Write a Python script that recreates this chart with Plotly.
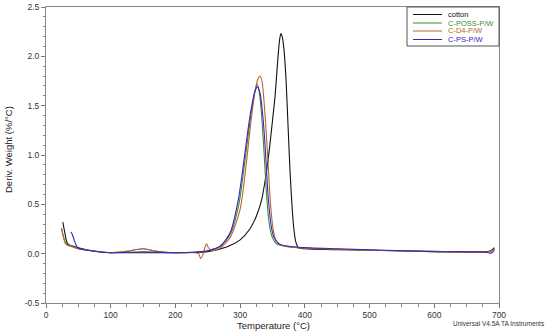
import plotly.graph_objects as go

# ---- data ----
cotton_x = [26, 28, 30, 32, 35, 40, 50, 70, 100, 150, 200, 250, 280, 300, 315, 325, 333, 340, 345, 350,
            354, 358, 361, 363, 365, 368, 371, 374, 377, 380, 383, 386, 390, 400, 450, 500, 600, 680, 687, 693]
cotton_y = [0.32, 0.25, 0.18, 0.12, 0.09, 0.08, 0.06, 0.03, 0.01, 0.01, 0.01, 0.02, 0.07, 0.14, 0.25, 0.38,
            0.54, 0.8, 1.05, 1.35, 1.6, 1.95, 2.17, 2.23, 2.2, 2.05, 1.75, 1.3, 0.85, 0.5, 0.25, 0.12, 0.06,
            0.05, 0.04, 0.035, 0.025, 0.02, 0.03, 0.06]

poss_x = [24, 26, 28, 30, 33, 38, 50, 70, 100, 125, 150, 175, 200, 250, 270, 285, 298, 307, 314, 320,
          324, 326, 329, 333, 337, 340, 343, 346, 350, 356, 370, 390, 450, 500, 600, 680, 687, 693]
poss_y = [0.26, 0.2, 0.15, 0.11, 0.09, 0.08, 0.05, 0.03, 0.01, 0.025, 0.05, 0.02, 0.01, 0.03, 0.08, 0.2,
          0.5, 0.92, 1.28, 1.55, 1.68, 1.72, 1.66, 1.42, 1.02, 0.68, 0.42, 0.26, 0.16, 0.1, 0.075, 0.06,
          0.045, 0.035, 0.02, 0.015, 0.025, 0.05]

d4_x = [24, 26, 28, 30, 33, 38, 50, 70, 100, 125, 150, 175, 200, 230, 236, 239, 242, 245, 248, 251, 256,
        270, 285, 300, 310, 316, 322, 327, 331, 334, 338, 342, 345, 348, 351, 355, 362, 380, 450, 500, 600,
        680, 687, 693]
d4_y = [0.25, 0.19, 0.14, 0.1, 0.085, 0.075, 0.05, 0.03, 0.01, 0.025, 0.05, 0.02, 0.01, 0.01, 0.0, -0.05,
        -0.02, 0.05, 0.1, 0.06, 0.03, 0.06, 0.17, 0.45, 0.94, 1.3, 1.6, 1.76, 1.8, 1.74, 1.45, 1.05, 0.7,
        0.42, 0.25, 0.14, 0.09, 0.065, 0.045, 0.035, 0.02, 0.015, 0.025, 0.05]

ps_x = [38.5, 41, 44, 47, 50, 60, 80, 100, 150, 200, 250, 270, 285, 297, 305, 312, 318, 323, 327, 331,
        335, 339, 342, 345, 348, 352, 358, 370, 390, 450, 500, 600, 680, 686, 690, 693]
ps_y = [0.22, 0.19, 0.13, 0.08, 0.055, 0.04, 0.02, 0.01, 0.02, 0.01, 0.03, 0.08, 0.22, 0.54, 0.9, 1.25,
        1.5, 1.65, 1.69, 1.62, 1.4, 1.05, 0.7, 0.45, 0.28, 0.17, 0.11, 0.08, 0.065, 0.05, 0.04, 0.02, 0.015,
        0.005, 0.015, 0.04]

series_names = ["cotton", "C-POSS-P/W", "C-D4-P/W", "C-PS-P/W"]
series_x = [cotton_x, poss_x, d4_x, ps_x]
series_y = [cotton_y, poss_y, d4_y, ps_y]
series_colors = ["#111111", "#3d8c2e", "#b9662c", "#3b22c8"]

x_ticks = [0, 100, 200, 300, 400, 500, 600, 700]
y_ticks = [-0.5, 0.0, 0.5, 1.0, 1.5, 2.0, 2.5]
y_tick_labels = ["-0.5", "0.0", "0.5", "1.0", "1.5", "2.0", "2.5"]

FONT = "Arial, Liberation Sans, sans-serif"

# plot area in pixels: x 46..499, y 7..303
L, R, T, B = 46, 499, 7, 303
W, H = R - L, B - T


def px(xp):
    return (xp - L) / W


def py(yp):
    return (B - yp) / H


fig = go.Figure()
for name, xs, ys, col in zip(series_names, series_x, series_y, series_colors):
    fig.add_trace(go.Scatter(
        x=xs, y=ys, mode="lines", name=name, showlegend=False,
        line=dict(color=col, width=1.1, shape="spline", smoothing=0.7),
    ))

axis_common = dict(
    showline=True, linecolor="#888888", linewidth=1, mirror=True,
    ticks="outside", ticklen=4, tickcolor="#777777", tickwidth=1,
    showgrid=False, zeroline=False, automargin=False,
    tickfont=dict(family=FONT, size=8.5, color="#333333"),
)

fig.update_xaxes(
    range=[0, 700], tickvals=x_ticks,
    minor=dict(dtick=25, ticks="outside", ticklen=2.5, tickcolor="#888888"),
    **axis_common,
)
fig.update_yaxes(
    range=[-0.5, 2.5], tickvals=y_ticks, ticktext=y_tick_labels,
    minor=dict(dtick=0.1, ticks="outside", ticklen=2.5, tickcolor="#888888"),
    **axis_common,
)

shapes = [dict(type="rect", xref="paper", yref="paper",
               x0=px(407), x1=1, y0=py(46), y1=1,
               line=dict(color="#555555", width=1), fillcolor="white", layer="above")]
annotations = [
    dict(text="Deriv. Weight (%/°C)", xref="paper", yref="paper", x=px(8), y=py(150),
         textangle=-90, showarrow=False, xanchor="center", yanchor="middle",
         font=dict(family=FONT, size=9.5, color="#222222")),
    dict(text="Temperature (°C)", xref="paper", yref="paper", x=px(273), y=py(325),
         showarrow=False, xanchor="center", yanchor="middle",
         font=dict(family=FONT, size=9.5, color="#222222")),
    dict(text="Universal V4.5A TA Instruments", xref="paper", yref="paper", x=px(547), y=py(323),
         xanchor="right", yanchor="middle", showarrow=False,
         font=dict(family=FONT, size=6.5, color="#333333")),
]

row_y = [14.5, 23, 31, 39.5]
for name, col, ry in zip(series_names, series_colors, row_y):
    shapes.append(dict(type="line", xref="paper", yref="paper",
                       x0=px(413), x1=px(442), y0=py(ry), y1=py(ry),
                       line=dict(color=col, width=1), layer="above"))
    annotations.append(dict(text=name, xref="paper", yref="paper", x=px(447), y=py(ry),
                            xanchor="left", yanchor="middle", showarrow=False, borderpad=0,
                            font=dict(family=FONT, size=7.5, color=col)))

fig.update_layout(
    width=550, height=334,
    margin=dict(l=L, r=550 - R, t=T, b=334 - B),
    paper_bgcolor="white", plot_bgcolor="white",
    showlegend=False,
    shapes=shapes,
    annotations=annotations,
)

fig.write_html("out.html", config={"displayModeBar": False},
               post_script="document.body.style.margin='0';document.body.style.padding='0';")
